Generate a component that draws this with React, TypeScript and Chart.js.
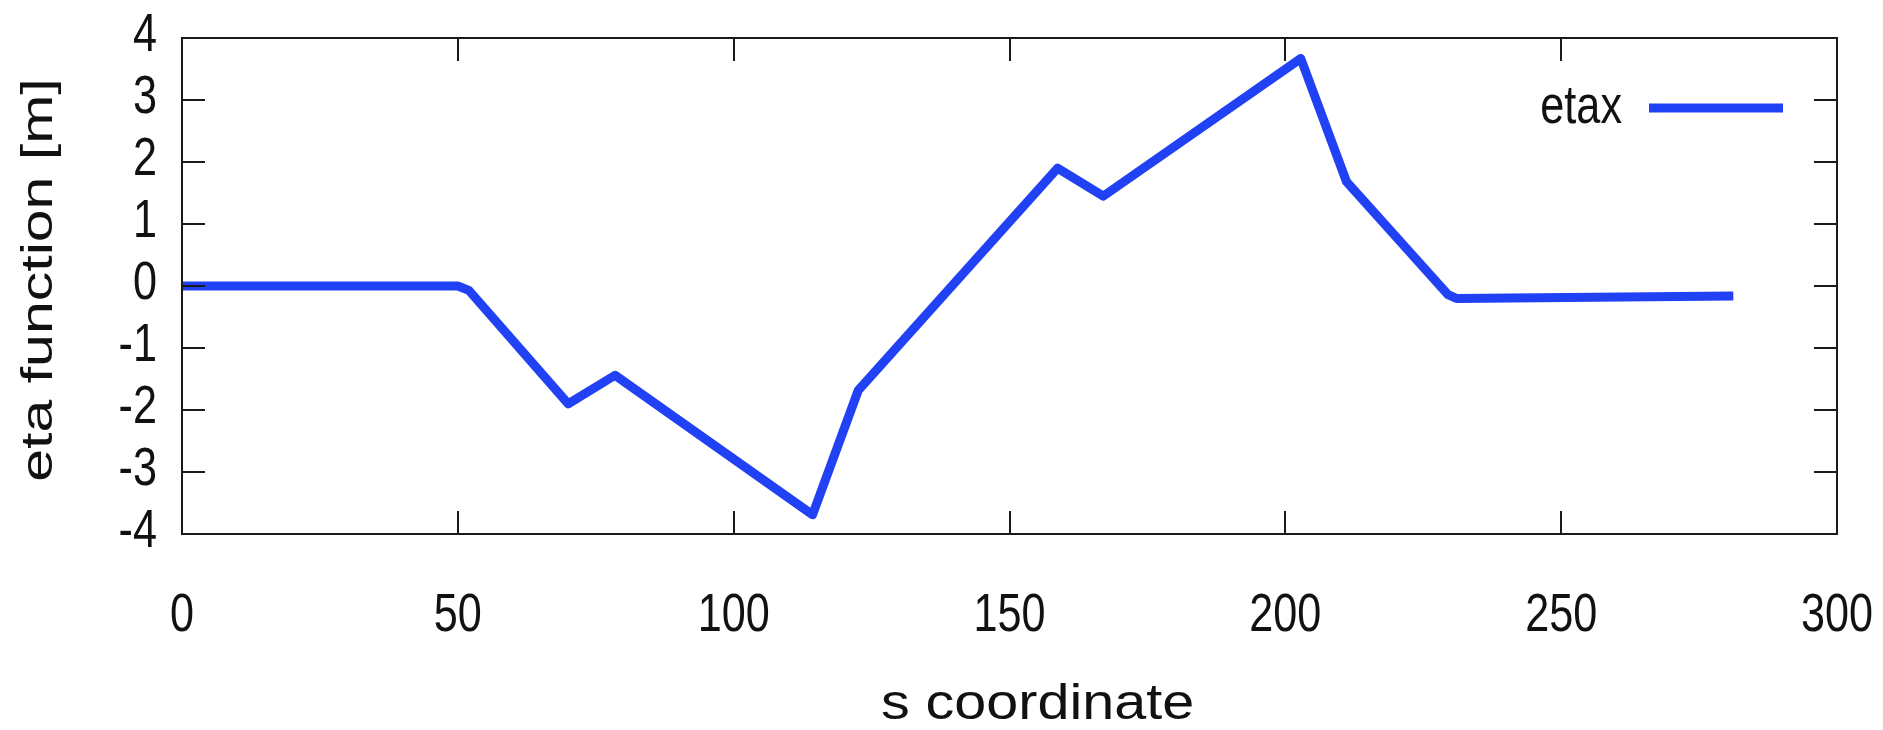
import { useEffect, useRef } from "react";
import { Chart, registerables } from "chart.js";

Chart.register(...registerables);

// Horizontal dispersion along the lattice
const sCoord = [0, 50, 52, 70, 78.5, 114.3, 122.6, 158.7, 167, 202.8, 211.1, 229.5, 231, 281.2];
const etaX = [0, 0, -0.07, -1.9, -1.44, -3.69, -1.68, 1.9, 1.45, 3.67, 1.68, -0.14, -0.2, -0.16];

const seriesLabel = "etax";
const xTitle = "s coordinate";
const yTitle = "eta function [m]";
const xRange = [0, 300];
const xStep = 50;
const yRange = [-4, 4];
const yStep = 1;

const LINE_BLUE = "#2141f5";
const INK = "#111111";
const TEXT_FONT = "'Liberation Sans', Arial, Helvetica, sans-serif";

// Horizontal glyph scaling: narrow (Helvetica-Narrow-like) labels, wider x title
const GLYPH_SQUEEZE = 0.8;
const Y_TITLE_SQUEEZE = 0.76;
const X_TITLE_STRETCH = 1.15;

// Axis-title offsets (px) from the centre of the plot edge
const X_TITLE_SHIFT = 28;
const Y_TITLE_SHIFT = 6;

// Closed frame around the plot with inward tick marks on all four sides
const frameTicks = {
  id: "frameTicks",
  afterDatasetsDraw(chart: any) {
    const { ctx, chartArea: a, scales } = chart;
    const len = 23;
    ctx.save();
    ctx.strokeStyle = "#1a1a1a";
    ctx.lineWidth = 2;
    ctx.beginPath();
    for (const t of scales.x.ticks) {
      const px = Math.round(scales.x.getPixelForValue(t.value));
      ctx.moveTo(px, a.bottom);
      ctx.lineTo(px, a.bottom - len);
      ctx.moveTo(px, a.top);
      ctx.lineTo(px, a.top + len);
    }
    for (const t of scales.y.ticks) {
      const py = Math.round(scales.y.getPixelForValue(t.value));
      ctx.moveTo(a.left, py);
      ctx.lineTo(a.left + len, py);
      ctx.moveTo(a.right, py);
      ctx.lineTo(a.right - len, py);
    }
    ctx.stroke();
    ctx.strokeRect(a.left, a.top, a.right - a.left, a.bottom - a.top);
    ctx.restore();
  },
};

// Legend in the upper-right corner of the plot; axis titles slightly off-centre
const placementNudge = {
  id: "placementNudge",
  afterLayout(chart: any) {
    const a = chart.chartArea;
    const lg = chart.legend;
    if (lg) {
      lg.left = a.right - lg.width;
      lg.right = a.right;
      lg.top = a.top - 11;
      lg.bottom = lg.top + lg.height;
    }
  },
  beforeDraw(chart: any) {
    // titles are positioned from these edges while the scales draw
    chart.scales.x.left += X_TITLE_SHIFT * 2;
    chart.scales.y.bottom -= Y_TITLE_SHIFT * 2;
  },
  beforeDatasetsDraw(chart: any) {
    // restore the edges so the dataset clip area is the plot frame again
    chart.scales.x.left -= X_TITLE_SHIFT * 2;
    chart.scales.y.bottom += Y_TITLE_SHIFT * 2;
  },
};

// Wrap fillText so each label is scaled horizontally (in device space) about its anchor
function condenseText(ctx: CanvasRenderingContext2D) {
  const original = ctx.fillText.bind(ctx);
  ctx.fillText = (text: string, x: number, y: number, maxWidth?: number) => {
    const factor =
      text === xTitle ? X_TITLE_STRETCH : text === yTitle ? Y_TITLE_SQUEEZE : GLYPH_SQUEEZE;
    const m = ctx.getTransform();
    const p = m.transformPoint(new DOMPoint(x, y));
    const s = new DOMMatrix().translate(p.x, p.y).scale(factor, 1).translate(-p.x, -p.y);
    ctx.setTransform(s.multiply(m));
    if (maxWidth === undefined) original(text, x, y);
    else original(text, x, y, maxWidth);
    ctx.setTransform(m);
  };
}

export default function App() {
  const canvasRef = useRef<HTMLCanvasElement>(null);

  useEffect(() => {
    document.body.style.margin = "0";
    const canvas = canvasRef.current;
    if (!canvas) return;
    const ctx = canvas.getContext("2d");
    if (ctx) condenseText(ctx);

    const chart = new Chart(canvas, {
      type: "line",
      data: {
        datasets: [
          {
            label: seriesLabel,
            data: sCoord.map((s, i) => ({ x: s, y: etaX[i] })),
            borderColor: LINE_BLUE,
            backgroundColor: LINE_BLUE,
            borderWidth: 9,
            borderJoinStyle: "round",
            pointRadius: 0,
            pointHoverRadius: 0,
            tension: 0,
            fill: false,
          },
        ],
      },
      options: {
        animation: false,
        responsive: false,
        devicePixelRatio: 1,
        events: [],
        layout: { padding: { left: 0, top: 38, right: 46, bottom: 0 } },
        scales: {
          x: {
            type: "linear",
            min: xRange[0],
            max: xRange[1],
            grid: { display: false, drawTicks: false },
            border: { display: false },
            ticks: {
              stepSize: xStep,
              autoSkip: false,
              maxRotation: 0,
              padding: 55,
              color: INK,
              font: { family: TEXT_FONT, size: 54, lineHeight: 1 },
            },
            title: {
              display: true,
              text: xTitle,
              color: INK,
              font: { family: TEXT_FONT, size: 50, lineHeight: 1 },
              padding: { top: 0, bottom: 0 },
            },
            afterFit: (scale: any) => {
              scale.height = 196;
              scale.paddingLeft = 0;
              scale.paddingRight = 0;
            },
          },
          y: {
            min: yRange[0],
            max: yRange[1],
            grid: { display: false, drawTicks: false },
            border: { display: false },
            ticks: {
              stepSize: yStep,
              padding: 25,
              labelOffset: -2,
              color: INK,
              font: { family: TEXT_FONT, size: 54, lineHeight: 1 },
            },
            title: {
              display: true,
              text: yTitle,
              color: INK,
              font: { family: TEXT_FONT, size: 59, lineHeight: 1 },
              padding: { top: 10, bottom: 0 },
            },
            afterFit: (scale: any) => {
              scale.width = 182;
              scale.paddingTop = 0;
              scale.paddingBottom = 0;
            },
          },
        },
        plugins: {
          tooltip: { enabled: false },
          legend: {
            position: "chartArea",
            align: "start",
            rtl: true,
            labels: {
              usePointStyle: true,
              pointStyle: "line",
              pointStyleWidth: 134,
              padding: 54,
              color: INK,
              font: { family: TEXT_FONT, size: 54 },
            },
          },
        },
      },
      plugins: [frameTicks, placementNudge],
    } as any);

    return () => chart.destroy();
  }, []);

  return (
    <div style={{ width: 1883, height: 730, background: "#ffffff" }}>
      <canvas ref={canvasRef} width={1883} height={730} style={{ display: "block" }} />
    </div>
  );
}
